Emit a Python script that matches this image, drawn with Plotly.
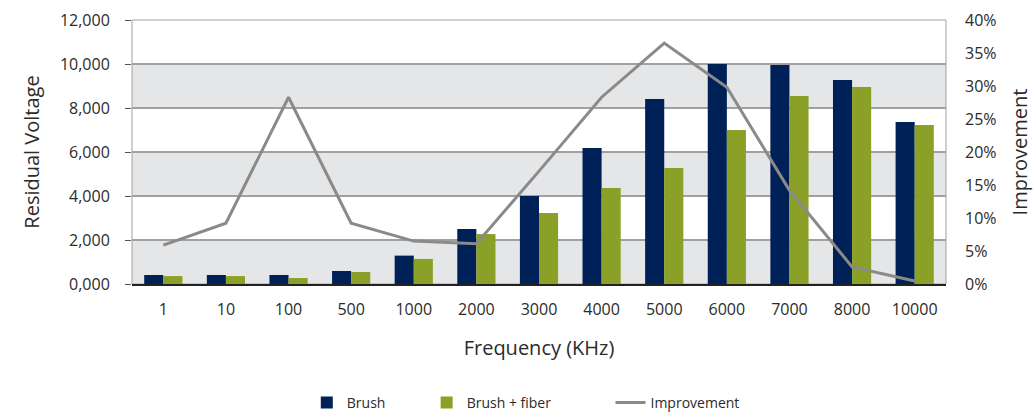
import plotly.graph_objects as go

# Frequencies (KHz) and measured residual voltages
frequencies = ["1", "10", "100", "500", "1000", "2000", "3000", "4000",
               "5000", "6000", "7000", "8000", "10000"]
brush = [410, 410, 410, 590, 1290, 2500, 4000, 6180, 8410, 10000, 9950, 9270, 7360]
brush_fiber = [360, 360, 270, 545, 1140, 2270, 3230, 4360, 5270, 7000, 8550, 8950, 7230]
improvement = [5.9, 9.2, 28.3, 9.2, 6.5, 6.1, 17.1, 28.3, 36.5, 29.8, 14.2, 2.6, 0.45]

left_ticks = [0, 2000, 4000, 6000, 8000, 10000, 12000]
left_labels = ["0,000", "2,000", "4,000", "6,000", "8,000", "10,000", "12,000"]
right_ticks = [0, 5, 10, 15, 20, 25, 30, 35, 40]
right_labels = [f"{v}%" for v in right_ticks]

NAVY = "#002157"
OLIVE = "#8ba027"
GREY_LINE = "#8a8a8a"
TEXT = "#2b2b2b"
FONT = "Open Sans"

fig = go.Figure()

fig.add_trace(go.Bar(x=frequencies, y=brush, name="Brush", marker_color=NAVY,
                     marker_line_width=0, legend="legend"))
fig.add_trace(go.Bar(x=frequencies, y=brush_fiber, name="Brush + fiber", marker_color=OLIVE,
                     marker_line_width=0, legend="legend2"))
fig.add_trace(go.Scatter(x=frequencies, y=improvement, name="Improvement", mode="lines",
                         line=dict(color=GREY_LINE, width=3), yaxis="y2", legend="legend3"))

# alternating horizontal bands behind the bars
shapes = []
for i in range(0, len(left_ticks) - 1):
    if i % 2 == 0:
        shapes.append(dict(type="rect", xref="paper", yref="y", x0=0, x1=1,
                           y0=left_ticks[i], y1=left_ticks[i + 1],
                           fillcolor="#e5e6e8", line_width=0, layer="below"))
# plot frame (top, left, right)
shapes.append(dict(type="rect", xref="paper", yref="paper", x0=0, x1=1, y0=0, y1=1,
                   line=dict(color="#a0a0a0", width=1), fillcolor="rgba(0,0,0,0)",
                   layer="below"))

legend_common = dict(orientation="h", yref="container", yanchor="middle", y=0.022,
                     xref="container", xanchor="left",
                     font=dict(family=FONT, size=14, color=TEXT),
                     bgcolor="rgba(0,0,0,0)", itemwidth=30, tracegroupgap=0)

fig.update_layout(
    width=1033, height=412,
    margin=dict(l=132, r=87, t=20, b=128, autoexpand=False),
    paper_bgcolor="white", plot_bgcolor="rgba(0,0,0,0)",
    font=dict(family=FONT, color=TEXT),
    barmode="group", bargap=0.39, bargroupgap=0,
    shapes=shapes,
    xaxis=dict(
        type="category",
        showgrid=False,
        showline=True, linecolor="#222222", linewidth=1.5,
        ticks="", tickfont=dict(size=16, color=TEXT), ticklabelstandoff=10,
        title=dict(text="Frequency (KHz)", font=dict(size=20, color=TEXT), standoff=22),
    ),
    yaxis=dict(
        range=[0, 12000], tickvals=left_ticks, ticktext=left_labels,
        showgrid=True, gridcolor="#a0a0a0", gridwidth=1.5,
        zeroline=False, showline=False,
        ticks="outside", ticklen=6, tickcolor="#555555", ticklabelstandoff=12,
        tickfont=dict(size=16, color=TEXT),
        title=dict(text="Residual Voltage", font=dict(size=20, color=TEXT), standoff=14),
    ),
    yaxis2=dict(
        overlaying="y", side="right",
        range=[0, 40], tickvals=right_ticks, ticktext=right_labels,
        showgrid=False, zeroline=False, showline=False, ticks="", ticklabelstandoff=18,
        tickfont=dict(size=16, color=TEXT),
        title=dict(text="Improvement", font=dict(size=20, color=TEXT), standoff=18),
    ),
    legend=dict(legend_common, x=0.297),
    legend2=dict(legend_common, x=0.413),
    legend3=dict(legend_common, x=0.591),
    showlegend=True,
)

fig.write_html("out.html")
